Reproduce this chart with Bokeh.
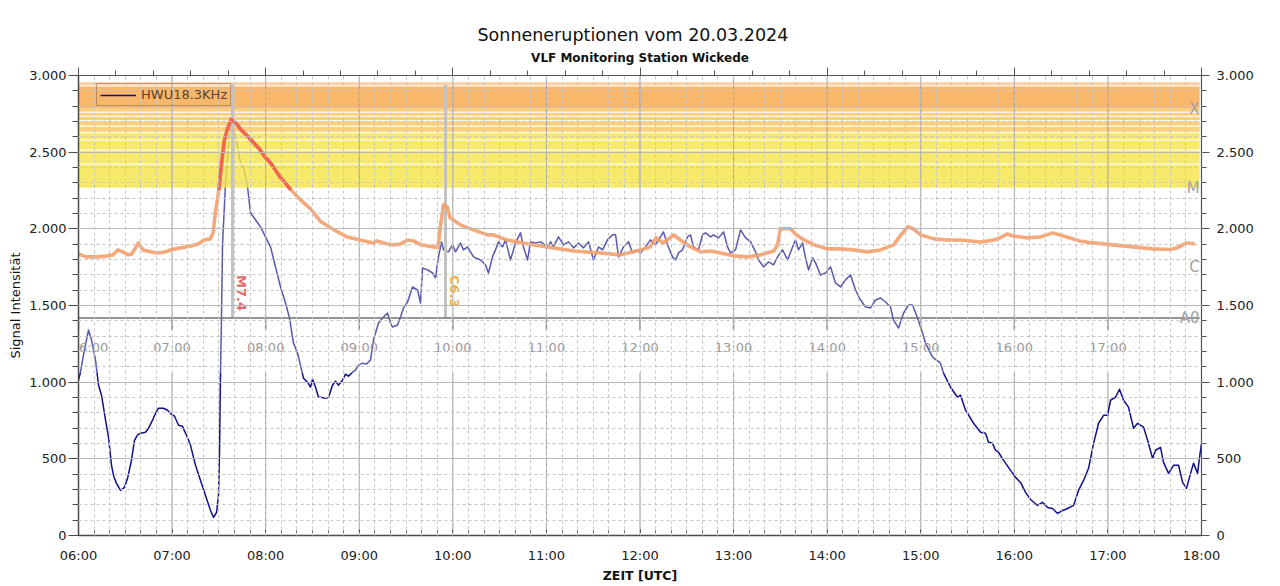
import math
from bokeh.plotting import figure
from bokeh.models import (Range1d, LogScale, LinearAxis, FixedTicker, Title,
                          Legend, LegendItem, Grid)
from bokeh.core.properties import value
from bokeh.embed import file_html
from bokeh.resources import INLINE

FONT = "DejaVu Sans"

# ---------------- texts ----------------
title_text = "Sonneneruptionen vom 20.03.2024"
subtitle_text = "VLF Monitoring Station Wickede"
y_label = "Signal Intensität"
x_label = "ZEIT [UTC]"
legend_label = "HWU18.3KHz"

# ---------------- ticks ----------------
hours = list(range(6, 19))
hour_labels = [f"{h:02d}:00" for h in hours]
y_ticks = [0, 500, 1000, 1500, 2000, 2500, 3000]
y_tick_labels = ["0", "500", "1.000", "1.500", "2.000", "2.500", "3.000"]

# ---------------- VLF signal (hours UTC, signal) ----------------
vlf_time = [6.000, 6.021, 6.053, 6.085, 6.107, 6.139, 6.182, 6.214, 6.246, 6.289,
            6.321, 6.353, 6.374, 6.406, 6.449, 6.492, 6.524, 6.566, 6.598, 6.630,
            6.663, 6.716, 6.748, 6.791, 6.823, 6.855, 6.908, 6.951, 6.983, 7.026,
            7.069, 7.111, 7.154, 7.197, 7.250, 7.304, 7.357, 7.411, 7.443, 7.475,
            7.496, 7.507, 7.517, 7.528, 7.539, 7.571, 7.603, 7.635, 7.678, 7.731,
            7.763, 7.806, 7.838, 7.891, 7.945, 7.998, 8.052, 8.105, 8.159, 8.212,
            8.255, 8.297, 8.340, 8.372, 8.404, 8.447, 8.479, 8.501, 8.533, 8.565,
            8.586, 8.640, 8.672, 8.714, 8.746, 8.778, 8.821, 8.853, 8.885, 8.928,
            8.960, 8.992, 9.035, 9.078, 9.120, 9.152, 9.206, 9.259, 9.302, 9.334,
            9.355, 9.409, 9.441, 9.473, 9.516, 9.569, 9.623, 9.655, 9.676, 9.730,
            9.783, 9.815, 9.847, 9.879, 9.901, 9.954, 9.997, 10.029, 10.082, 10.114,
            10.157, 10.221, 10.296, 10.349, 10.381, 10.424, 10.456, 10.488, 10.531, 10.563,
            10.616, 10.670, 10.723, 10.755, 10.798, 10.830, 10.884, 10.937, 11.012, 11.044,
            11.076, 11.129, 11.183, 11.236, 11.290, 11.343, 11.397, 11.450, 11.503, 11.557,
            11.600, 11.653, 11.706, 11.739, 11.771, 11.824, 11.877, 11.920, 11.974, 12.006,
            12.059, 12.112, 12.166, 12.219, 12.251, 12.294, 12.348, 12.380, 12.412, 12.454,
            12.508, 12.540, 12.572, 12.625, 12.668, 12.700, 12.754, 12.786, 12.839, 12.893,
            12.935, 12.967, 13.021, 13.074, 13.128, 13.181, 13.235, 13.267, 13.320, 13.374,
            13.427, 13.470, 13.523, 13.577, 13.630, 13.662, 13.694, 13.737, 13.769, 13.801,
            13.844, 13.876, 13.929, 13.983, 14.036, 14.089, 14.143, 14.196, 14.250, 14.303,
            14.357, 14.410, 14.463, 14.517, 14.570, 14.624, 14.677, 14.709, 14.763, 14.816,
            14.869, 14.912, 14.966, 15.019, 15.051, 15.126, 15.211, 15.243, 15.318, 15.393,
            15.425, 15.479, 15.564, 15.639, 15.692, 15.724, 15.767, 15.799, 15.831, 15.885,
            15.960, 16.013, 16.066, 16.120, 16.173, 16.248, 16.301, 16.355, 16.408, 16.462,
            16.515, 16.569, 16.633, 16.686, 16.740, 16.793, 16.847, 16.900, 16.953, 16.996,
            17.028, 17.082, 17.124, 17.167, 17.220, 17.274, 17.317, 17.381, 17.424, 17.477,
            17.509, 17.562, 17.594, 17.648, 17.701, 17.755, 17.798, 17.840, 17.883, 17.915,
            17.958, 17.979, 18.000]
vlf_signal = [1013, 1065, 1176, 1275, 1340, 1275, 1144, 980, 915, 752,
              640, 458, 392, 340, 294, 314, 373, 490, 621, 654,
              667, 673, 699, 752, 797, 830, 830, 817, 797, 778,
              719, 712, 654, 588, 458, 359, 261, 163, 118, 150,
              261, 556, 1046, 1418, 1900, 2300, 2550, 2712, 2601, 2431,
              2405, 2275, 2105, 2059, 2013, 1948, 1882, 1752, 1621, 1516,
              1418, 1255, 1190, 1111, 1026, 1000, 967, 1020, 967, 902,
              902, 895, 902, 980, 1006, 980, 1013, 1052, 1039, 1065,
              1078, 1111, 1124, 1118, 1144, 1275, 1386, 1425, 1451, 1386,
              1360, 1373, 1425, 1484, 1523, 1621, 1601, 1516, 1745, 1732,
              1712, 1680, 1817, 1915, 1863, 1850, 1895, 1850, 1908, 1863,
              1882, 1817, 1797, 1765, 1712, 1817, 1863, 1915, 1882, 1928,
              1797, 1908, 1974, 1882, 1797, 1915, 1908, 1915, 1882, 1915,
              1882, 1948, 1895, 1915, 1876, 1908, 1876, 1915, 1797, 1882,
              1863, 1928, 1961, 1961, 1817, 1882, 1915, 1843, 1863, 1843,
              1882, 1928, 1895, 1948, 1980, 1895, 1817, 1797, 1843, 1863,
              1948, 1961, 1882, 1863, 1961, 1974, 1948, 1961, 1941, 1980,
              1882, 1843, 1863, 1993, 1941, 1915, 1850, 1797, 1752, 1784,
              1765, 1817, 1863, 1797, 1882, 1928, 1863, 1908, 1810, 1732,
              1810, 1778, 1699, 1712, 1752, 1647, 1621, 1667, 1699, 1601,
              1536, 1490, 1484, 1536, 1549, 1523, 1490, 1405, 1353, 1451,
              1503, 1503, 1418, 1320, 1255, 1163, 1124, 1059, 967, 902,
              915, 817, 732, 673, 667, 608, 601, 556, 543, 490,
              425, 379, 346, 281, 235, 196, 216, 183, 176, 144,
              163, 176, 196, 294, 359, 438, 601, 732, 784, 784,
              882, 902, 954, 882, 837, 699, 732, 706, 621, 503,
              556, 575, 477, 405, 458, 458, 346, 307, 405, 471,
              405, 510, 601]

# ---------------- GOES X-ray flux (hours UTC, flux in 1e-6 W/m^2) ----------------
xray_time = [6.00, 6.08, 6.20, 6.31, 6.37, 6.42, 6.47, 6.53, 6.57, 6.64,
             6.69, 6.77, 6.84, 6.93, 6.98, 7.09, 7.20, 7.28, 7.34, 7.41,
             7.44, 7.46, 7.50, 7.53, 7.56, 7.59, 7.63, 7.68, 7.73, 7.81,
             7.87, 7.94, 7.99, 8.05, 8.16, 8.27, 8.37, 8.48, 8.59, 8.73,
             8.87, 9.01, 9.15, 9.19, 9.30, 9.37, 9.44, 9.52, 9.58, 9.66,
             9.79, 9.84, 9.87, 9.90, 9.94, 9.97, 10.08, 10.22, 10.37, 10.43,
             10.58, 10.80, 11.01, 11.29, 11.58, 11.79, 12.01, 12.11, 12.17, 12.25,
             12.36, 12.43, 12.54, 12.65, 12.75, 12.86, 13.00, 13.15, 13.29, 13.43,
             13.47, 13.50, 13.61, 13.66, 13.75, 13.86, 14.00, 14.14, 14.28, 14.43,
             14.57, 14.71, 14.78, 14.86, 14.92, 15.00, 15.14, 15.29, 15.42, 15.64,
             15.78, 15.85, 15.92, 15.98, 16.13, 16.27, 16.35, 16.41, 16.56, 16.70,
             16.84, 17.05, 17.27, 17.48, 17.67, 17.74, 17.84, 17.93]
xray_flux = [1.46, 1.34, 1.34, 1.38, 1.42, 1.64, 1.55, 1.42, 1.46, 2.01,
             1.64, 1.55, 1.50, 1.55, 1.64, 1.74, 1.84, 1.95, 2.19, 2.26,
             2.77, 4.55, 9.4, 21.3, 40.5, 54.3, 72.7, 66.5, 55.0, 44.3,
             37.2, 30.3, 24.7, 20.7, 13.4, 9.4, 7.05, 5.42, 3.71, 2.94,
             2.39, 2.19, 2.01, 2.13, 1.95, 1.90, 1.95, 2.19, 2.13, 1.90,
             1.79, 1.76, 3.40, 6.10, 5.74, 4.17, 3.40, 2.94, 2.54, 2.54,
             2.19, 1.95, 1.79, 1.59, 1.50, 1.42, 1.64, 1.79, 2.33, 2.01,
             2.54, 2.19, 1.79, 1.55, 1.59, 1.50, 1.38, 1.34, 1.42, 1.59,
             1.90, 3.03, 3.03, 2.61, 2.19, 1.90, 1.69, 1.69, 1.64, 1.55,
             1.64, 1.90, 2.47, 3.21, 3.03, 2.54, 2.26, 2.19, 2.19, 2.06,
             2.19, 2.33, 2.61, 2.47, 2.33, 2.39, 2.54, 2.69, 2.39, 2.13,
             2.01, 1.90, 1.79, 1.69, 1.66, 1.74, 2.01, 1.95]

# flares
flare_time = [7.646, 9.922]
flare_class = ["M7.4", "C6.3"]
flare_color = ["#e46a6a", "#f2b23e"]

# flare class thresholds (1e-6 W/m^2)
class_names = ["X", "M", "C", "A0"]
class_flux = [100.0, 10.0, 1.0, 0.226]
m_sub_levels = [20, 30, 40, 50, 60, 70, 80, 90]

# ---------------- figure ----------------
X0, X1 = 6, 18
GOES_LO, GOES_HI = 4.05e-4, 261.7
PANEL_BOTTOM = 0.226
PANEL_RIGHT = 17.98

p = figure(width=1280, height=586, x_range=Range1d(X0, X1), y_range=Range1d(0, 3000),
           x_axis_type=None, y_axis_type=None, output_backend="svg",
           toolbar_location=None, min_border_left=78, min_border_right=79,
           min_border_top=75, min_border_bottom=51,
           background_fill_color="white", border_fill_color="white")
p.outline_line_color = None
p.extra_y_ranges = {"goes": Range1d(start=GOES_LO, end=GOES_HI)}
p.extra_y_scales = {"goes": LogScale()}

bottom_ticker = FixedTicker(ticks=hours, minor_ticks=[6 + i / 6 for i in range(73)])
left_ticker = FixedTicker(ticks=y_ticks, minor_ticks=list(range(0, 3001, 100)))
top_ticker = FixedTicker(ticks=list(range(6, 19, 2)), minor_ticks=[6 + 0.4 * i for i in range(31)])
y_over = dict(zip(y_ticks, y_tick_labels))

xb = LinearAxis(ticker=bottom_ticker, major_label_overrides=dict(zip(hours, hour_labels)),
                axis_label=x_label, axis_label_text_font=FONT, axis_label_text_font_size="12.5px",
                axis_label_text_font_style="bold", axis_label_standoff=2,
                axis_label_text_color="#111111",
                major_label_text_font=FONT, major_label_text_font_size="13px",
                major_label_text_color="#222222", major_label_standoff=12,
                major_tick_in=7, major_tick_out=0, minor_tick_in=5, minor_tick_out=0,
                axis_line_color="#4a4a4a", axis_line_width=1.5,
                major_tick_line_color="#4a4a4a", minor_tick_line_color="#4a4a4a")
p.add_layout(xb, "below")

yl = LinearAxis(ticker=left_ticker, major_label_overrides=y_over,
                axis_label=y_label, axis_label_text_font=FONT, axis_label_text_font_size="13px",
                axis_label_text_font_style="normal", axis_label_standoff=3,
                axis_label_text_color="#111111",
                major_label_text_font=FONT, major_label_text_font_size="13px",
                major_label_text_color="#222222", major_label_standoff=2,
                major_tick_in=0, major_tick_out=10, minor_tick_in=0, minor_tick_out=6,
                axis_line_color="#4a4a4a", axis_line_width=1.5,
                major_tick_line_color="#4a4a4a", minor_tick_line_color="#4a4a4a")
p.add_layout(yl, "left")

yr = LinearAxis(ticker=left_ticker, major_label_overrides=y_over,
                major_label_text_font=FONT, major_label_text_font_size="13px",
                major_label_text_color="#222222", major_label_standoff=7,
                major_tick_in=0, major_tick_out=8, minor_tick_in=0, minor_tick_out=5,
                axis_line_color="#555555", axis_line_width=1.2,
                major_tick_line_color="#555555", minor_tick_line_color="#555555")
p.add_layout(yr, "right")

xt = LinearAxis(ticker=top_ticker, major_label_text_font_size="0px",
                major_label_text_color=None, major_label_standoff=0,
                major_tick_in=0, major_tick_out=8, minor_tick_in=0, minor_tick_out=5,
                axis_line_color="#555555", axis_line_width=1.2,
                major_tick_line_color="#555555", minor_tick_line_color="#555555")
p.add_layout(xt, "above")

# titles (closest to the plot first)
p.add_layout(Title(text=subtitle_text, align="center", text_font=FONT,
                   text_font_size="12px", text_font_style="bold",
                   text_color="#111111", standoff=5), "above")
p.add_layout(Title(text=title_text, align="left", offset=399, text_font=FONT,
                   text_font_size="17.5px", text_font_style="normal",
                   text_color="#111111", standoff=4), "above")

gx = Grid(dimension=0, ticker=bottom_ticker, grid_line_color=None,
          minor_grid_line_color="#c4c4c4", minor_grid_line_dash="3 3", level="overlay")
gy = Grid(dimension=1, ticker=left_ticker, grid_line_color="#b8b8b8",
          minor_grid_line_color="#c4c4c4", minor_grid_line_dash="3 3", level="overlay")
p.add_layout(gx)
p.add_layout(gy)

# hour lines of the VLF chart (below the GOES panel)
n_h = len(hours)
p.segment(x0=hours, y0=[0] * n_h, x1=hours, y1=[1060] * n_h,
          line_color="#999999", line_width=1, level="underlay")

# VLF signal
r_vlf = p.line(vlf_time, vlf_signal, line_color="#10108c", line_width=1.5, line_join="round")

# translucent GOES panel background
p.quad(left=[X0], right=[PANEL_RIGHT], bottom=[1060], top=[3000],
       fill_color="white", fill_alpha=0.3, line_color=None)

# flare-class bands
band_bottom = [10, 50, 100, 190, 200]
band_top = [50, 100, 190, 200, 215]
band_color = ["#f5e347", "#fbc35b", "#f8a547", "#fde0bf", "#fac188"]
p.quad(left=[X0] * 5, right=[PANEL_RIGHT] * 5, bottom=band_bottom, top=band_top,
       fill_color=band_color, fill_alpha=0.8, line_color=None, y_range_name="goes")
n_m = len(m_sub_levels)
p.segment(x0=[X0] * n_m, y0=m_sub_levels, x1=[PANEL_RIGHT] * n_m, y1=m_sub_levels,
          line_color="white", line_alpha=0.8, line_width=1.5, y_range_name="goes")

# hour lines of the GOES panel
ph = hours[1:-1]
p.segment(x0=ph, y0=[PANEL_BOTTOM] * len(ph), x1=ph, y1=[GOES_HI] * len(ph),
          line_color="#9c9c9c", line_width=1, y_range_name="goes")

# flare markers
p.segment(x0=flare_time, y0=[PANEL_BOTTOM] * 2, x1=flare_time, y1=[200] * 2,
          line_color="#c2c2c2", line_width=3, y_range_name="goes")

# X-ray flux: C-class orange, M-class red
p.line(xray_time, xray_flux, line_color="#f4a06c", line_width=3.6, line_alpha=0.9,
       line_join="round", y_range_name="goes")
xray_m = [f if f >= 9 else float("nan") for f in xray_flux]
p.line(xray_time, xray_m, line_color="#ef5f4f", line_width=3.6, line_alpha=0.9,
       line_join="round", y_range_name="goes")

# panel time axis
p.segment(x0=[X0], y0=[PANEL_BOTTOM], x1=[PANEL_RIGHT], y1=[PANEL_BOTTOM],
          line_color="#707070", line_width=1.5, y_range_name="goes")
pt = hours[:-1]
p.segment(x0=pt, y0=[PANEL_BOTTOM] * len(pt), x1=pt, y1=[0.159] * len(pt),
          line_color="#8a8a8a", line_width=1.5, y_range_name="goes")
p.text(x=pt, y=[0.097] * len(pt), text=hour_labels[:-1],
       x_offset=[11] + [0] * (len(pt) - 1),
       text_font=value(FONT), text_font_size="13px", text_color="#9a9a9a",
       text_align="center", text_baseline="middle", y_range_name="goes")

# class labels
p.text(x=[PANEL_RIGHT] * 4, y=class_flux, text=class_names,
       text_font=value(FONT), text_font_size="15px", text_color="#a2a2a2",
       text_align="right", text_baseline="alphabetic", y_range_name="goes")

# flare labels
p.text(x=flare_time, y=[0.79] * 2, text=flare_class, text_color=flare_color,
       x_offset=[9, 9], angle=-math.pi / 2,
       text_font=value(FONT), text_font_size="13px", text_font_style="bold",
       text_align="left", text_baseline="middle", y_range_name="goes")

# legend
legend = Legend(items=[LegendItem(label=legend_label, renderers=[r_vlf])],
                location=(18, 429), border_line_color="#7e5d38", border_line_width=1,
                background_fill_alpha=0, label_text_font=FONT, label_text_font_size="13px",
                label_text_color="#5d4327", padding=3, spacing=0, margin=0,
                glyph_width=36, glyph_height=14, label_height=14, label_standoff=5)
p.add_layout(legend)

open("out.html", "w").write(file_html(p, INLINE))
